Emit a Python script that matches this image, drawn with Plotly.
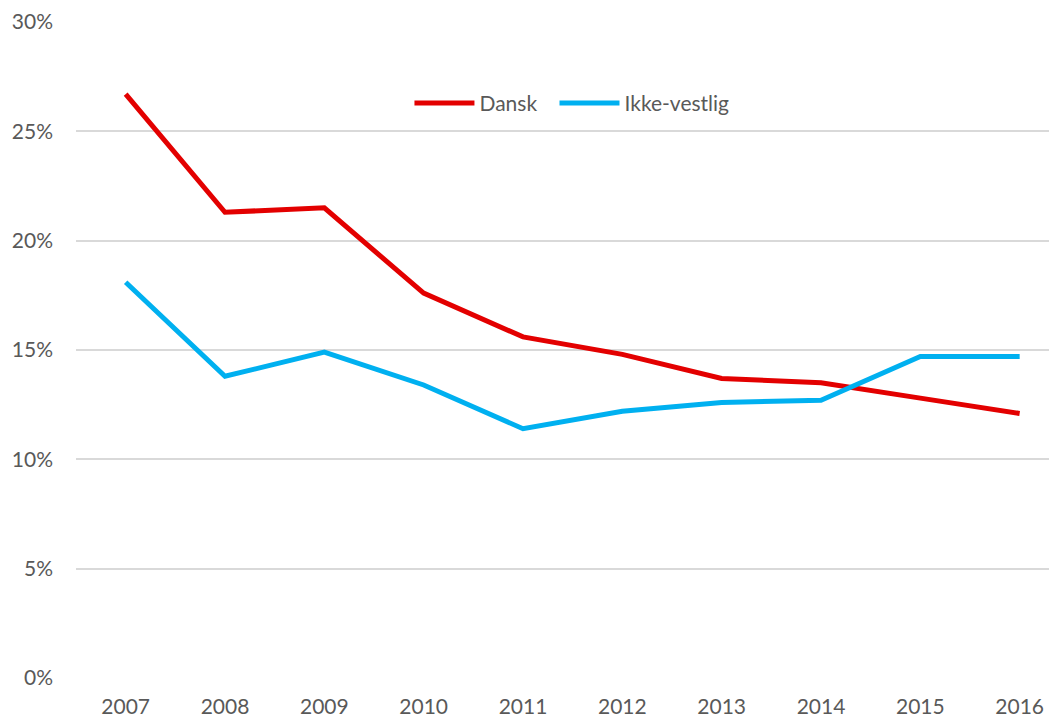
import plotly.graph_objects as go

years = ["2007", "2008", "2009", "2010", "2011", "2012", "2013", "2014", "2015", "2016"]
dansk = [26.7, 21.3, 21.5, 17.6, 15.6, 14.8, 13.7, 13.5, 12.8, 12.1]
ikke_vestlig = [18.1, 13.8, 14.9, 13.4, 11.4, 12.2, 12.6, 12.7, 14.7, 14.7]
y_ticks = [0, 5, 10, 15, 20, 25, 30]
y_labels = ["0%", "5%", "10%", "15%", "20%", "25%", "30%"]

font_family = "Lato, 'Open Sans', sans-serif"
text_color = "#595959"

fig = go.Figure()
fig.add_trace(go.Scatter(x=years, y=dansk, mode="lines", name="Dansk",
                         line=dict(color="#E30000", width=5), legend="legend"))
fig.add_trace(go.Scatter(x=years, y=ikke_vestlig, mode="lines", name="Ikke-vestlig",
                         line=dict(color="#00B0F0", width=5), legend="legend2"))

leg_common = dict(orientation="h", y=0.876, xanchor="center", yanchor="middle",
                  font=dict(size=21, color=text_color), bgcolor="rgba(0,0,0,0)",
                  itemwidth=60)

fig.update_layout(
    width=1049, height=710,
    margin=dict(l=68, r=0, t=14, b=40),
    paper_bgcolor="white", plot_bgcolor="white",
    font=dict(family=font_family, size=21, color=text_color),
    showlegend=True,
    legend=dict(x=0.4077, **leg_common),
    legend2=dict(x=0.5795, **leg_common),
)
fig.update_xaxes(type="category", range=[-0.5, 9.376], showgrid=False, zeroline=False,
                 showline=False, ticks="", tickfont=dict(size=21, color=text_color),
                 ticklabelstandoff=14)
fig.update_yaxes(range=[0, 30], tickvals=y_ticks, ticktext=y_labels, showgrid=True,
                 gridcolor="#D9D9D9", gridwidth=1.5, zeroline=False, showline=False,
                 ticks="", tickfont=dict(size=21, color=text_color), ticklabelstandoff=22)

fig.write_html("out.html")
